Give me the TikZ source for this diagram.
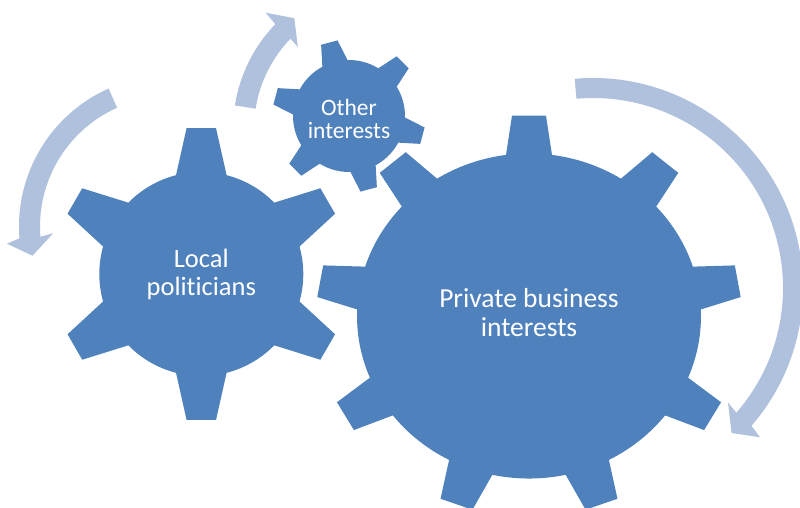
\documentclass[tikz,border=0pt]{standalone}
\usepackage{fontspec}
\setmainfont{Carlito}[Ligatures=NoCommon]

\definecolor{gearblue}{RGB}{79,129,189}
\definecolor{looparrow}{RGB}{176,193,221}

\tikzset{
    gear/.style={fill=gearblue},
    turn/.style={fill=looparrow},
    caption/.style={text=white, align=center, inner sep=0pt}
}

% #1 centre, #2 teeth, #3 first tooth angle, #4 tip radius, #5 body radius,
% #6 half width of a tooth tip, #7 half width of a tooth root, #8 yscale
\newcommand{\drawgear}[8]{%
    \pgfmathsetmacro\gstep{360/#2}
    \pgfmathsetmacro\gtip{atan(#6/#4)}
    \pgfmathsetmacro\gtipr{#4/cos(\gtip)}
    \pgfmathsetmacro\groot{asin(#7/#5)}
    \fill[gear, shift={#1}, yscale=#8] (#3-\groot:#5)
        \foreach \k in {1,...,#2} {
            -- ({#3+(\k-1)*\gstep-\gtip}:\gtipr)
            -- ({#3+(\k-1)*\gstep+\gtip}:\gtipr)
            -- ({#3+(\k-1)*\gstep+\groot}:#5)
            arc[start angle={#3+(\k-1)*\gstep+\groot}, end angle={#3+\k*\gstep-\groot}, radius=#5]
        } -- cycle;
}

\begin{document}
\begin{tikzpicture}[x=1pt, y=1pt]
    \useasboundingbox (0,0) rectangle (800,507);

    % gear centres
    \coordinate (c-local) at (201.3,233);
    \coordinate (c-other) at (349,391);
    \coordinate (c-private) at (529,191);

    % Turning arrows (band + flat head)
    % left one, counter clockwise
    \fill[turn, shift={(170,280.5)}] (114:151) arc[start angle=114, end angle=184.5, radius=151]
        -- (186:164) -- (192:140.5) -- (183.3:117) -- (184.5:130)
        arc[start angle=184.5, end angle=114, radius=130] -- cycle;
    % top one, clockwise
    \fill[turn, shift={(384,378)}] (171:151) arc[start angle=171, end angle=136, radius=151]
        -- (135.5:166) -- (129:142.5) -- (136.4:119) -- (136:130)
        arc[start angle=136, end angle=171, radius=130] -- cycle;
    % right one, clockwise round the big gear
    \fill[turn, shift={(593,219)}] (95:210) arc[start angle=95, end angle=-41, radius=210]
        -- (-41.8:224) -- (-46.3:200.5) -- (-40.3:177) -- (-41:190)
        arc[start angle=-41, end angle=95, radius=190] -- cycle;

    % Gears
    \drawgear{(c-local)}{6}{90}{146}{102}{14.7}{25.3}{1}
    \drawgear{(c-other)}{6}{105}{76}{56}{8.5}{13}{1}
    \drawgear{(c-private)}{9}{90}{212}{172}{17}{23}{0.945}

    % Labels
    \node[caption, font=\fontsize{26.5}{28}\selectfont] (local) at (c-local) {Local\\politicians};
    \node[caption, font=\fontsize{23.5}{23.5}\selectfont] (other) at ([yshift=-3]c-other) {Other\\interests};
    \node[caption, font=\fontsize{27.5}{29}\selectfont] (private) at ([yshift=3]c-private) {Private business\\interests};

\end{tikzpicture}
\end{document}
